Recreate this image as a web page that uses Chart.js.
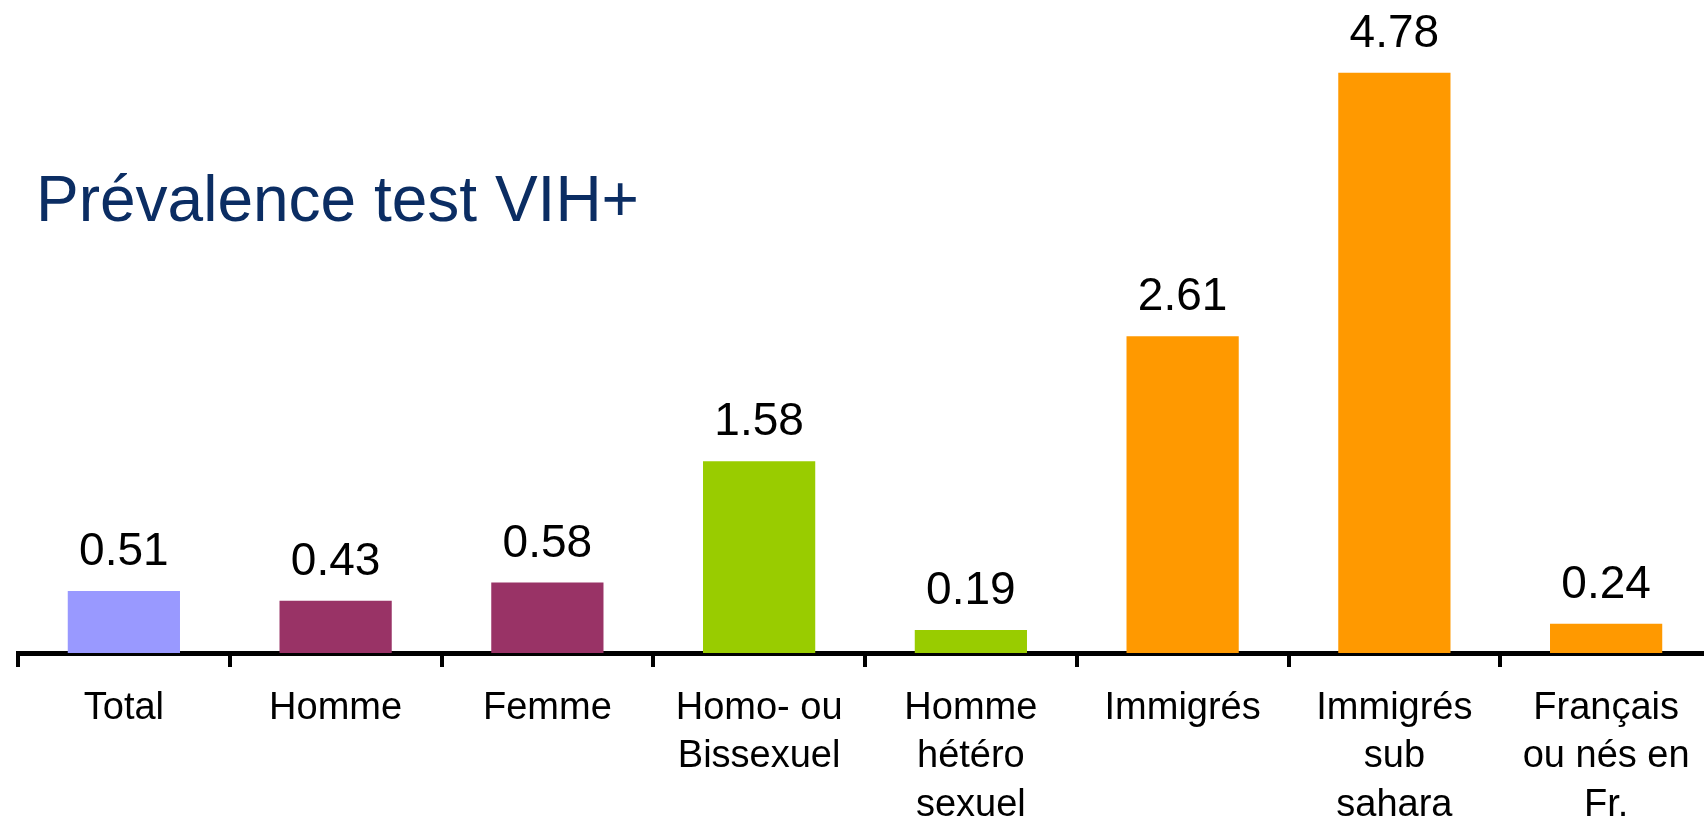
<!DOCTYPE html>
<html>
<head>
<meta charset="utf-8">
<script src="https://cdn.jsdelivr.net/npm/chart.js@4.4.1/dist/chart.umd.min.js"></script>
<style>
  html, body { margin: 0; padding: 0; background: #fff; overflow: hidden; }
  #wrap { width: 1704px; height: 821px; overflow: hidden; }
</style>
</head>
<body>
<div id="wrap"><canvas id="chart" width="1712" height="821"></canvas></div>
<script>
const categories = [
    'Total',
    'Homme',
    'Femme',
    ['Homo- ou', 'Bissexuel'],
    ['Homme', 'hétéro', 'sexuel'],
    'Immigrés',
    ['Immigrés', 'sub', 'sahara'],
    ['Français', 'ou nés en', 'Fr.']
];
const prevalence = [0.51, 0.43, 0.58, 1.58, 0.19, 2.61, 4.78, 0.24];
const barColors = ['#9999ff', '#993366', '#993366', '#99cc00', '#99cc00', '#ff9900', '#ff9900', '#ff9900'];
const chartTitle = 'Prévalence test VIH+';

const FONT = '"Liberation Sans", Arial, sans-serif';

// value labels above each bar + title
const labelsPlugin = {
    id: 'labels',
    afterDatasetsDraw(chart) {
        const ctx = chart.ctx;
        const meta = chart.getDatasetMeta(0);
        ctx.save();
        ctx.fillStyle = '#000';
        ctx.font = '46px ' + FONT;
        ctx.textAlign = 'center';
        ctx.textBaseline = 'alphabetic';
        meta.data.forEach((bar, i) => {
            ctx.fillText(prevalence[i].toFixed(2), bar.x, bar.y - 26);
        });
        ctx.fillStyle = '#0b2d63';
        ctx.font = '64px ' + FONT;
        ctx.textAlign = 'left';
        ctx.fillText(chartTitle, 36, 221);
        ctx.restore();
    }
};

new Chart(document.getElementById('chart').getContext('2d'), {
    type: 'bar',
    data: {
        labels: categories,
        datasets: [{
            data: prevalence,
            backgroundColor: barColors,
            categoryPercentage: 1,
            barPercentage: 0.53
        }]
    },
    options: {
        responsive: false,
        animation: false,
        layout: { padding: { left: 18, right: 0, top: 0, bottom: 0 } },
        plugins: {
            legend: { display: false },
            tooltip: { enabled: false }
        },
        scales: {
            x: {
                grid: {
                    drawOnChartArea: false,
                    drawTicks: true,
                    tickLength: 14,
                    lineWidth: 4,
                    color: '#000'
                },
                border: { display: true, color: '#000', width: 5 },
                ticks: {
                    color: '#000',
                    font: { family: FONT, size: 38, lineHeight: 1.28 },
                    padding: 17,
                    maxRotation: 0,
                    autoSkip: false
                },
                afterFit(scale) { scale.height = 168; }
            },
            y: {
                display: false,
                min: 0,
                max: 5.38
            }
        }
    },
    plugins: [labelsPlugin]
});
</script>
</body>
</html>
